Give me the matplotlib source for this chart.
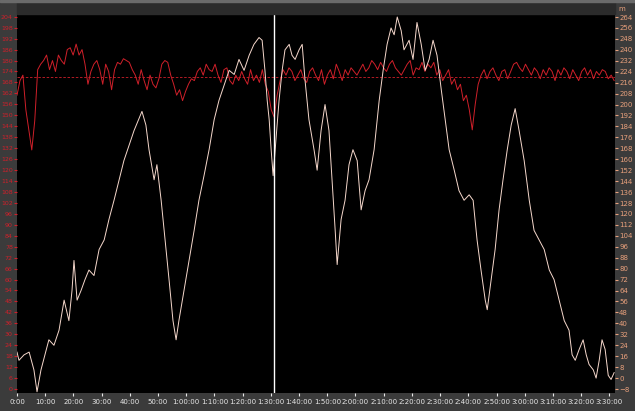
import numpy
import matplotlib
matplotlib.use("Agg")
import matplotlib.pyplot as plt
from matplotlib.patches import Rectangle

# Altitude trace (white), time in minutes, altitude in m (right axis).
alt_time = [
    0.0, 0.7, 2.5, 4.3, 6.0, 7.1, 8.5, 9.9, 11.3, 13.1, 14.9, 16.7, 18.4,
    19.5, 20.2, 21.3, 22.7, 24.1, 25.5, 27.3, 29.1, 30.9, 32.6, 34.4, 36.2,
    37.9, 39.7, 41.5, 43.3, 44.3, 45.7, 46.8, 48.6, 49.6, 51.1, 52.5, 53.9,
    55.3, 56.4, 57.4, 59.2, 61.0, 62.8, 64.5, 66.3, 68.1, 69.9, 71.6, 73.4,
    75.2, 77.0, 78.7, 80.5, 82.3, 84.0, 85.8, 86.9, 87.9, 88.7, 89.4, 90.1,
    90.8, 91.8, 92.9, 94.0, 95.0, 96.5, 97.5, 98.6, 100.0, 101.1, 102.1,
    103.5, 105.3, 106.4, 107.8, 109.2, 110.6, 111.7, 112.8, 113.5, 114.9,
    116.3, 117.7, 119.1, 120.6, 122.0, 123.4, 124.8, 126.6, 128.4, 129.8,
    131.2, 132.6, 133.7, 134.8, 136.2, 137.2, 139.0, 140.4, 141.8, 143.3,
    144.7, 146.1, 147.5, 148.9, 150.4, 151.8, 153.2, 155.0, 156.7, 158.5,
    160.3, 161.7, 163.1, 164.5, 166.0, 166.7, 168.1, 169.5, 170.9, 172.3,
    173.8, 175.2, 176.6, 178.0, 179.8, 181.6, 183.3, 185.1, 186.9, 188.7,
    190.4, 192.2, 194.0, 195.7, 196.8, 197.9, 199.3, 200.7, 201.8, 202.8,
    204.3, 205.3, 206.4, 207.4, 208.5, 209.6, 210.6, 211.7
]
alt_m = [
    19, 13, 17, 19, 6, -10, 6, 17, 28, 24, 35, 57, 42,
    64, 86, 57, 64, 72, 79, 75, 94, 101, 116, 130, 145,
    159, 170, 181, 190, 195, 185, 167, 145, 156, 130, 101, 72,
    42, 28, 42, 64, 86, 108, 130, 148, 167, 189, 203, 214,
    225, 222, 233, 225, 236, 244, 249, 247, 225, 203, 189, 167,
    148, 174, 203, 225, 240, 244, 236, 233, 240, 244, 218,
    189, 167, 152, 181, 200, 181, 145, 108, 83, 116,
    130, 156, 167, 159, 123, 137, 145, 167, 203, 225,
    244, 256, 251, 264, 254, 240, 247, 233, 260, 244,
    225, 233, 247, 236, 211, 189, 167, 152, 137, 130,
    134, 130, 101, 79, 57, 50, 72, 94, 123, 145,
    167, 185, 197, 181, 159, 130, 108, 101, 94, 79,
    72, 57, 42, 35, 17, 13, 21, 28, 17, 10,
    6, 0, 13, 28, 21, 2, -1, 4
]

# Red trace, left axis, sampled evenly over the flight.
red_val = [
    161, 169, 172, 153, 142, 131, 147, 175, 178, 180, 183, 175, 180, 174,
    183, 180, 178, 186, 187, 183, 189, 183, 186, 178, 167, 174, 178, 180,
    175, 167, 178, 174, 164, 175, 179, 178, 181, 180, 179, 175, 172, 167,
    175, 169, 164, 172, 167, 165, 170, 178, 180, 179, 172, 167, 161, 164,
    158, 163, 167, 170, 169, 174, 176, 172, 178, 175, 174, 178, 172, 168,
    175, 176, 169, 167, 172, 169, 174, 170, 167, 175, 169, 172, 168, 175,
    167, 163, 153, 149, 161, 169, 175,
    172, 176, 174, 169, 172, 175, 170, 168, 174, 176, 172, 169, 175, 167,
    172, 175, 170, 178, 174, 169, 175, 172, 176, 174, 172, 175, 178, 174,
    176, 180, 178, 175, 179, 176, 174, 178, 180, 176, 174, 172, 175, 178,
    180, 172, 176, 175, 179, 174, 178, 176, 179, 172, 175, 169, 172, 175,
    167, 170, 164, 167, 158, 161, 153, 142, 156, 167, 172, 175, 170, 174,
    176, 172, 169, 174, 175, 170, 174, 178, 179, 176, 174, 178, 175, 172,
    176, 174, 170, 175, 172, 176, 174, 169, 175, 172, 176, 174, 170, 175,
    172, 169, 174, 176, 172, 175, 170, 174, 172, 175, 174, 170, 172, 169
]
red_time = numpy.linspace(0.0, 211.7, len(red_val))
red_mean = 171

polar_names = ["Polar #1", "Polar #2", "Polar #3", "Polar #4"]
polar_time = [0.5, 56.4, 113.3, 174.6]
marker_time = 91.1

x_ticks = list(range(0, 211, 10))
left_ticks = list(range(0, 205, 6))
right_ticks = list(range(-8, 265, 8))


def time_label(m):
  h = m // 60
  mm = m % 60
  if h:
    return "%d:%02d:00" % (h, mm)
  return "%d:00" % mm


bg = "#3b3b3b"
white_col = "#f6d8cc"
red_col = "#d0202a"
right_col = "#e8a07c"

fig = plt.figure(figsize=(6.35, 4.11), dpi=100, facecolor=bg)

# header bar
fig.patches.append(Rectangle((17 / 635, 397 / 411), 598 / 635, 14 / 411,
                             transform=fig.transFigure, color="#2b2b2b",
                             zorder=0))
fig.patches.append(Rectangle((0, 409 / 411), 1, 2 / 411,
                             transform=fig.transFigure, color="#6a6a6a",
                             zorder=0))

ax = fig.add_axes([17 / 635, 18 / 411, 598 / 635, 379 / 411])
ax.set_facecolor("black")
ax2 = ax.twinx()

ax.plot(red_time, red_val, "-", color=red_col, linewidth=0.7)
ax.axhline(red_mean, color=red_col, linestyle=(0, (3, 2)), linewidth=0.6)
ax2.plot(alt_time, alt_m, "-", color=white_col, linewidth=0.7)
ax2.axvline(marker_time, color="white", linewidth=1.0)

ax.set_xlim(0, 212)
ax.set_ylim(-2.2, 205.5)
ax2.set_ylim(-10.9, 266.2)

ax.set_xticks(x_ticks)
ax.set_xticklabels([time_label(m) for m in x_ticks])
ax.set_yticks(left_ticks)
ax2.set_yticks(right_ticks)

ax.tick_params(axis="x", colors="#e8e8e8", labelsize=5, length=2, pad=2)
ax.tick_params(axis="y", colors=red_col, labelsize=4.5, length=2, pad=1)
ax2.tick_params(axis="y", colors=right_col, labelsize=5, length=2, pad=1)

for a in (ax, ax2):
  for s in a.spines.values():
    s.set_visible(False)

for name, t in zip(polar_names, polar_time):
  ax.text(t, 1.006, name, transform=ax.get_xaxis_transform(), color="white",
          fontsize=5, va="bottom", ha="left")

fig.text(618 / 635, 1 - 9 / 411, "m", color=right_col, fontsize=5,
         va="center", ha="left")

fig.savefig("out.png", dpi=100, facecolor=bg)
